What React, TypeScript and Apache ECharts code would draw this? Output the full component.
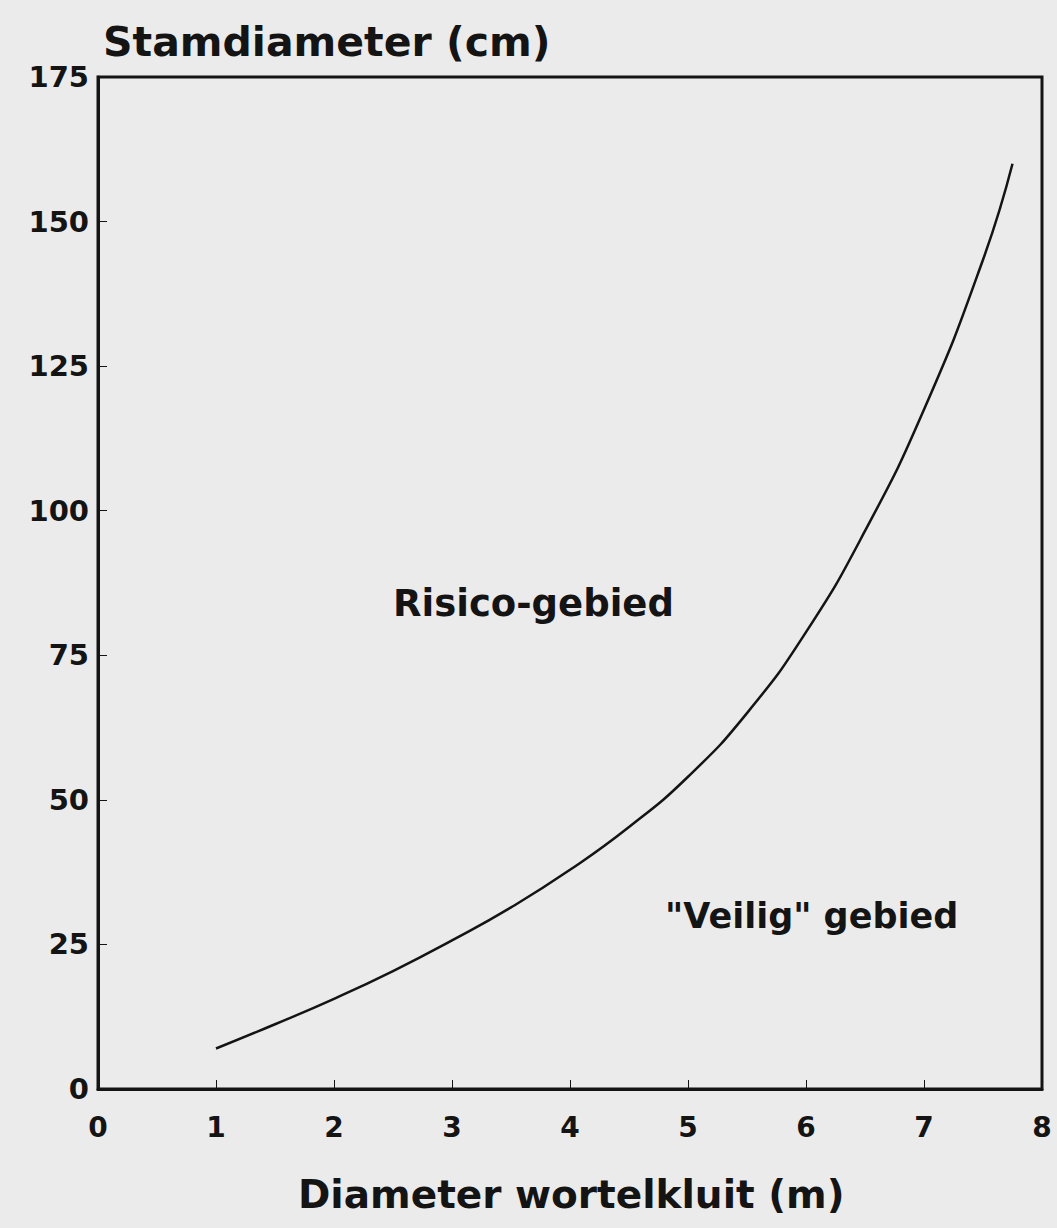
import React, { useEffect, useRef } from "react";
import * as echarts from "echarts";

const rootDiameter = [1.0, 1.5, 2.0, 2.5, 3.0, 3.5, 4.0, 4.5, 5.0, 5.5, 6.0, 6.5, 7.0, 7.5, 7.75];
const stemDiameter = [7.0, 11.2, 15.6, 20.4, 25.7, 31.4, 37.9, 45.3, 54.0, 65.0, 79.0, 96.5, 117.5, 143.4, 160.0];
const yTitle = "Stamdiameter (cm)";
const xTitle = "Diameter wortelkluit (m)";
const riskLabel = "Risico-gebied";
const safeLabel = "\"Veilig\" gebied";

const FONT = "DejaVu Sans";
const INK = "#141414";

export default function App() {
  const ref = useRef<HTMLDivElement>(null);
  useEffect(() => {
    const chart = echarts.init(ref.current!, null, { renderer: "svg" });
    const data = rootDiameter.map((x, i) => [x, stemDiameter[i]]);
    chart.setOption({
      animation: false,
      backgroundColor: "#ebebeb",
      grid: {
        left: 98,
        right: 15,
        top: 77,
        bottom: 139,
        show: true,
        borderColor: INK,
        borderWidth: 3,
        backgroundColor: "transparent",
      },
      xAxis: {
        type: "value",
        min: 0,
        max: 8,
        interval: 1,
        axisLine: { show: true, lineStyle: { color: INK, width: 3 } },
        axisTick: { show: true, inside: true, length: 9, lineStyle: { color: INK, width: 1 } },
        splitLine: { show: false },
        axisLabel: { color: INK, fontFamily: FONT, fontWeight: "bold", fontSize: 28, margin: 24 },
      },
      yAxis: {
        type: "value",
        min: 0,
        max: 175,
        interval: 25,
        axisLine: { show: true, lineStyle: { color: INK, width: 3 } },
        axisTick: { show: true, inside: true, length: 9, lineStyle: { color: INK, width: 1 } },
        splitLine: { show: false },
        axisLabel: { color: INK, fontFamily: FONT, fontWeight: "bold", fontSize: 29, margin: 9 },
      },
      series: [
        {
          type: "line",
          data,
          smooth: true,
          symbol: "none",
          lineStyle: { color: INK, width: 2.5 },
        },
      ],
      graphic: [
        {
          type: "text",
          left: 103,
          top: 21,
          style: { text: yTitle, fill: INK, font: `bold 41px "${FONT}"` },
        },
        {
          type: "text",
          left: 298,
          top: 1175,
          style: { text: xTitle, fill: INK, font: `bold 39px "${FONT}"` },
        },
        {
          type: "text",
          left: 393,
          top: 585,
          style: { text: riskLabel, fill: INK, font: `bold 37px "${FONT}"` },
        },
        {
          type: "text",
          left: 665,
          top: 898,
          style: { text: safeLabel, fill: INK, font: `bold 35px "${FONT}"` },
        },
      ],
    });
    return () => chart.dispose();
  }, []);
  return (
    <div
      ref={ref}
      style={{ position: "fixed", left: 0, top: 0, width: 1057, height: 1228, background: "#ebebeb" }}
    />
  );
}
